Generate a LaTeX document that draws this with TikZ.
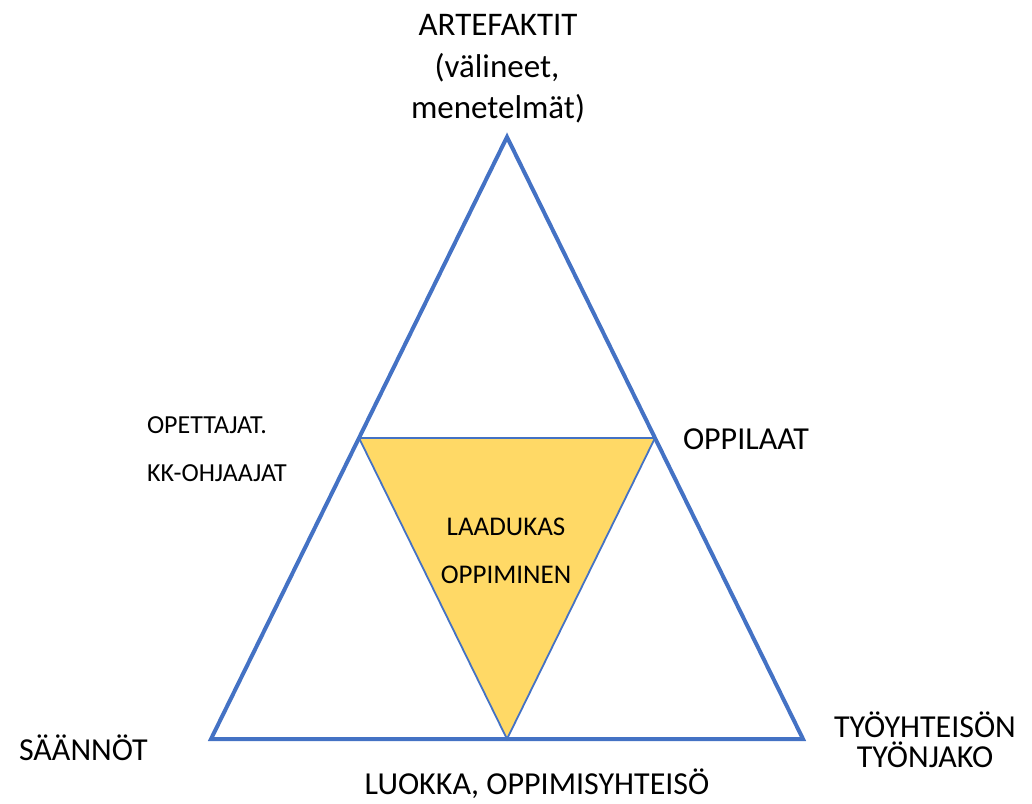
\documentclass[tikz,border=0pt]{standalone}
\usepackage{fontspec}
\setmainfont{Carlito}
\usetikzlibrary{calc}
\definecolor{triblue}{HTML}{4472C4}
\definecolor{triyellow}{HTML}{FFD966}
\newcommand{\fs}[2]{\fontsize{#1}{#2}\selectfont}
\begin{document}
\begin{tikzpicture}[x=1pt,y=-1pt,
  lbl/.style={inner sep=0pt, outer sep=0pt, text=black},
  outer/.style={draw=triblue, line width=4pt, line join=miter},
  inner/.style={draw=triblue, fill=triyellow, line width=1.8pt, line join=miter}]
\useasboundingbox (0,0) rectangle (1032,803);
% vertices
\coordinate (A) at (507,137);
\coordinate (L) at (211,739);
\coordinate (R) at (803,739);
\coordinate (ML) at ($(A)!0.5!(L)$);
\coordinate (MR) at ($(A)!0.5!(R)$);
\coordinate (MB) at ($(L)!0.5!(R)$);
\draw[inner] (ML) -- (MR) -- (MB) -- cycle;
\draw[outer] (A) -- (L) -- (R) -- cycle;
% labels
\node[lbl, anchor=base] (art1) at (498,35) {\fs{33}{40}ARTEFAKTIT};
\node[lbl, anchor=base] (art2) at (497,77) {\fs{33}{40}(välineet,};
\node[lbl, anchor=base] (art3) at (498,118) {\fs{33}{40}menetelmät)};
\node[lbl, anchor=base west] (op1) at (147,433) {\fs{26}{30}OPETTAJAT.};
\node[lbl, anchor=base west] (op2) at (147,481) {\fs{26}{30}KK-OHJAAJAT};
\node[lbl, anchor=base west] (opl) at (683,449) {\fs{32}{40}OPPILAAT};
\node[lbl, anchor=base west] (saa) at (19,760) {\fs{32}{40}SÄÄNNÖT};
\node[lbl, anchor=base] (luo) at (537,794) {\fs{32}{40}LUOKKA, OPPIMISYHTEISÖ};
\node[lbl, anchor=base] (ty1) at (925,737) {\fs{32}{36}TYÖYHTEISÖN};
\node[lbl, anchor=base] (ty2) at (925,767) {\fs{32}{36}TYÖNJAKO};
\node[lbl, anchor=base] (laa) at (506,535) {\fs{27}{32}LAADUKAS};
\node[lbl, anchor=base] (opp) at (506,583) {\fs{27}{32}OPPIMINEN};
\end{tikzpicture}
\end{document}
